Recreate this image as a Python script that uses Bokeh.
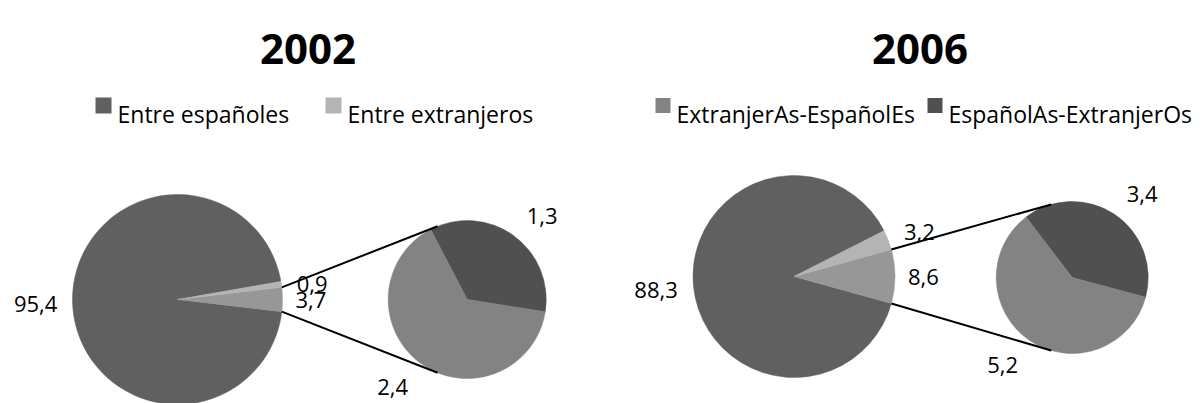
import math
from bokeh.plotting import figure
from bokeh.models import Range1d
from bokeh.embed import file_html
from bokeh.resources import INLINE
from bokeh.core.properties import value

# ---------------- data ----------------
years = ["2002", "2006"]
entre_espanoles = [95.4, 88.3]
entre_extranjeros = [0.9, 3.2]
espanolas_extranjeros = [1.3, 3.4]   # EspañolAs-ExtranjerOs
extranjeras_espanoles = [2.4, 5.2]   # ExtranjerAs-EspañolEs
legend_2002 = ["Entre españoles", "Entre extranjeros"]
legend_2006 = ["ExtranjerAs-EspañolEs", "EspañolAs-ExtranjerOs"]

# ---------------- style / layout ----------------
W, H = 1201, 403
FONT = "Open Sans"
LFS = 22          # data label font size (px)
C_MAIN = "#606060"
C_LIGHT = "#b4b4b4"
C_AGG = "#979797"
C_DARK = "#505050"
C_MED = "#838383"

panels = [
    dict(main=(177, 299), r=105, sec=(466.7, 299), sr=79, sec_start=-9.0, conn=112,
         title_x=307.5, legend=legend_2002, leg_colors=[C_MAIN, C_LIGHT],
         leg_sq=[95, 325], leg_tx=[117, 347], sq=16),
    dict(main=(793.5, 276), r=101, sec=(1071.7, 277), sr=76, sec_start=-15.0, conn=106,
         title_x=919.5, legend=legend_2006, leg_colors=[C_MED, C_DARK],
         leg_sq=[655, 927], leg_tx=[676, 948], sq=15),
]


def X(px):
    return px


def Y(py):
    return H - py


def fmt(v):
    return ("%.1f" % v).replace(".", ",")


p = figure(width=W, height=H, x_range=Range1d(0, W), y_range=Range1d(0, H),
           min_border=0, x_axis_location=None, y_axis_location=None,
           toolbar_location=None, output_backend="svg")
p.grid.visible = False
p.outline_line_color = None
p.background_fill_color = "white"
p.border_fill_color = "white"


def wedge(cx, cy, r, a0, a1, color):
    p.wedge(x=[X(cx)], y=[Y(cy)], radius=r, start_angle=math.radians(a0),
            end_angle=math.radians(a1), fill_color=color, line_color=color, line_width=0.5)


def label(cx, cy, r, ang, txt, gap):
    u = math.cos(math.radians(ang))
    v = math.sin(math.radians(ang))
    ndig = sum(ch.isdigit() for ch in txt)
    hw = (ndig * 0.572 + 0.25) * LFS / 2.0
    hh = 11.0
    d = r + gap + hw * abs(u) + hh * abs(v)
    p.text(x=[X(cx + d * u)], y=[Y(cy - d * v)], text=[txt], text_font=value(FONT),
           text_font_size=value("%dpx" % LFS), text_color="black",
           text_align="center", text_baseline="middle")


for i, pn in enumerate(panels):
    big = entre_espanoles[i]
    small = entre_extranjeros[i]
    dark = espanolas_extranjeros[i]
    med = extranjeras_espanoles[i]
    agg = dark + med
    total = big + small + agg
    cx, cy = pn["main"]
    r = pn["r"]
    half = agg / total * 180.0
    a_small_end = half + small / total * 360.0
    # main pie
    wedge(cx, cy, r, a_small_end, 360 - half, C_MAIN)
    wedge(cx, cy, r, -half, half, C_AGG)
    wedge(cx, cy, r, half, a_small_end, C_LIGHT)
    # secondary pie
    sx, sy = pn["sec"]
    sr = pn["sr"]
    s0 = pn["sec_start"]
    s1 = s0 + dark / agg * 360.0
    wedge(sx, sy, sr, s0, s1, C_DARK)
    wedge(sx, sy, sr, s1, s0 + 360.0, C_MED)
    # connector lines
    for sgn in (1, -1):
        x0 = cx + r * math.cos(math.radians(half))
        y0 = cy - sgn * r * math.sin(math.radians(half))
        x1 = sx + sr * math.cos(math.radians(pn["conn"]))
        y1 = sy - sgn * sr * math.sin(math.radians(pn["conn"]))
        p.line(x=[X(x0), X(x1)], y=[Y(y0), Y(y1)], line_color="black", line_width=2)
    # labels
    label(cx, cy, r, (a_small_end + 360 - half) / 2.0, fmt(big), 15)
    label(cx, cy, r, (half + a_small_end) / 2.0 - 1.5, fmt(small), 14)
    label(cx, cy, r, 0.0, fmt(agg), 13)
    label(sx, sy, sr, (s0 + s1) / 2.0 - 6.0, fmt(dark), 15)
    label(sx, sy, sr, (s1 + s0 + 360) / 2.0 - 4.5, fmt(med), 18)
    # title
    p.text(x=[X(pn["title_x"])], y=[Y(48)], text=[years[i]], text_font=value(FONT),
           text_font_size=value("42px"), text_font_style="bold", text_color="black",
           text_align="center", text_baseline="alphabetic")
    # legend
    for k in range(2):
        sq = pn["sq"]
        p.rect(x=[X(pn["leg_sq"][k] + sq / 2.0)], y=[Y(105)], width=sq, height=sq,
               fill_color=pn["leg_colors"][k], line_color=None)
        p.text(x=[X(pn["leg_tx"][k])], y=[Y(113)], text=[pn["legend"][k]],
               text_font=value(FONT), text_font_size=value("23px"), text_color="black",
               text_align="left", text_baseline="alphabetic")

open("out.html", "w").write(file_html(p, INLINE))
